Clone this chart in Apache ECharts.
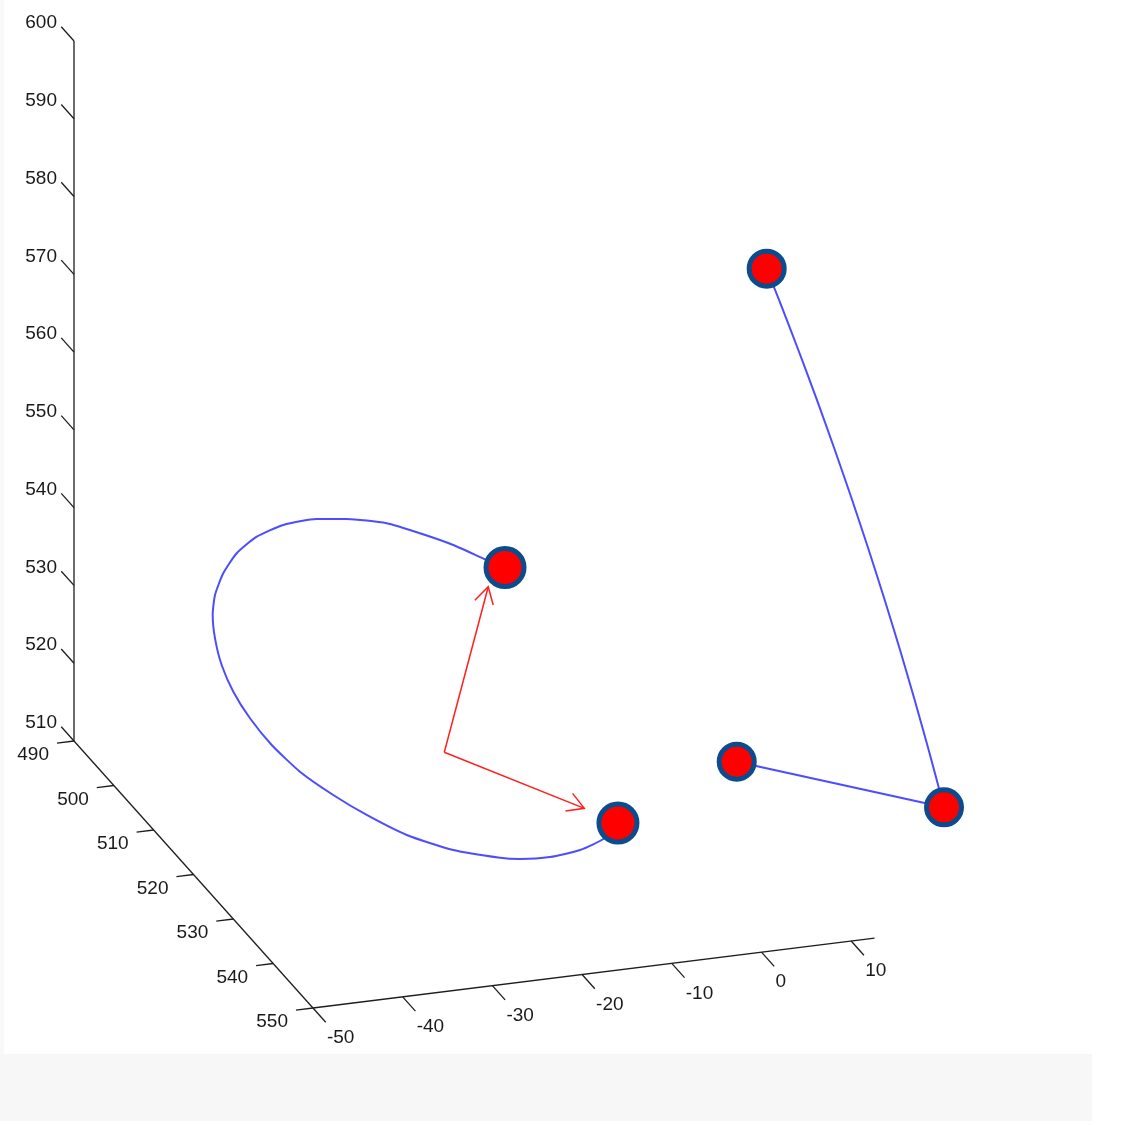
<!DOCTYPE html>
<html><head><meta charset="utf-8">
<script src="https://cdn.jsdelivr.net/npm/echarts@6/dist/echarts.min.js"></script>
<style>html,body{margin:0;padding:0;background:#fff}#c{width:1148px;height:1125px}</style>
</head><body><div id="c"></div>
<script>
// ---- axis ranges and tick labels (3D box) ----
const xRange = [-50, 12.6];
const yRange = [490, 550];
const zRange = [510, 600];
const xTicks = [-50, -40, -30, -20, -10, 0, 10];
const yTicks = [490, 500, 510, 520, 530, 540, 550];
const zTicks = [510, 520, 530, 540, 550, 560, 570, 580, 590, 600];

// ---- data: points as [x, y, z] ----
const arcCurve = [
  [-15.27,520,544.48],[-17.31,520,545.74],[-21.04,520,548.20],[-24.75,520,550.24],[-28.46,520,552.06],
  [-32.92,520,553.25],[-36.27,520,553.73],[-39.99,520,553.50],[-42.95,520,552.42],[-45.18,520,550.61],
  [-46.68,520,548.25],[-47.60,520,545.59],[-47.86,520,543.06],[-47.60,520,540.02],[-46.86,520,536.48],
  [-45.56,520,532.87],[-43.70,520,529.18],[-41.28,520,525.40],[-38.13,520,521.51],[-34.42,520,517.98],
  [-30.69,520,514.88],[-26.23,520,511.67],[-21.04,520,508.99],[-15.83,520,507.25],[-13.60,520,506.77],
  [-10.26,520,506.54],[-6.91,520,506.96],[-4.13,520,508.10],[-2.68,520,509.83]
];
const linkCurve = [
  [13.90,520,578.71],[15.28,520,574.49],[17.43,520,567.75],[19.50,520,561.03],[21.50,520,554.31],
  [23.43,520,547.60],[25.28,520,540.91],[27.06,520,534.23],[28.77,520,527.55],[30.40,520,520.89],
  [31.96,520,514.24],[33.67,520,506.62]
];
const linkTail = [[33.67,520,506.62],[10.56,520,515.81]];
const arcEnds = [[-15.27,520,544.48],[-2.68,520,509.83]];
const linkNodes = [[13.90,520,578.71],[10.56,520,515.81],[33.67,520,506.62]];
const arrowOrigin = [-22.04,520,521.70];
const arrowTips = [[-17.14,520,542.28],[-6.43,520,512.25]];

// ---- view projection (orthographic) ----
const VIEW = {o:[74,741], ex:[8.97,-1.117], ey:[3.983,4.45], ez:[0,-7.778]};
function proj(p){
  const a = p[0]-xRange[0], b = p[1]-yRange[0], c = p[2]-zRange[0];
  return [VIEW.o[0]+a*VIEW.ex[0]+b*VIEW.ey[0]+c*VIEW.ez[0],
          VIEW.o[1]+a*VIEW.ex[1]+b*VIEW.ey[1]+c*VIEW.ez[1]];
}

const FONT = '"Liberation Sans",Arial,sans-serif';
const AXC = '#1e1e1e';
const BLUE = '#4d4dff';

const tickItems = [];
zTicks.forEach(v=>tickItems.push({k:'z',v:v}));
yTicks.forEach(v=>tickItems.push({k:'y',v:v}));
xTicks.forEach(v=>tickItems.push({k:'x',v:v}));

function tickRender(params, api){
  const t = tickItems[params.dataIndex];
  let base, end, lx, ly, align;
  if (t.k==='z'){ base=[xRange[0],yRange[0],t.v]; end=[xRange[0],yRange[0]-3.2,t.v]; }
  else if (t.k==='y'){ base=[xRange[0],t.v,zRange[0]]; end=[xRange[0]-1.9,t.v,zRange[0]]; }
  else { base=[t.v,yRange[1],zRange[0]]; end=[t.v,yRange[1]+3.2,zRange[0]]; }
  const bp = api.coord(proj(base)), ep = api.coord(proj(end));
  if (t.k==='z'){ lx=bp[0]-17; ly=bp[1]-18; align='right'; }
  else if (t.k==='y'){ lx=bp[0]-25; ly=bp[1]+14; align='right'; }
  else { lx=bp[0]+14; ly=bp[1]+30; align='left'; }
  return {type:'group', children:[
    {type:'line', shape:{x1:bp[0],y1:bp[1],x2:ep[0],y2:ep[1]}, style:{stroke:AXC,lineWidth:1.3}},
    {type:'text', x:lx, y:ly, style:{text:String(t.v), fill:'#1a1a1a', font:'19px '+FONT, align:align, verticalAlign:'middle'}}
  ]};
}

function arrowRender(params, api){
  const o = api.coord(proj(arrowOrigin));
  const t = api.coord(proj(arrowTips[params.dataIndex]));
  const dx=o[0]-t[0], dy=o[1]-t[1], L=Math.hypot(dx,dy), ux=dx/L, uy=dy/L;
  const hl=19, ang=30*Math.PI/180, cs=Math.cos(ang), sn=Math.sin(ang);
  const h1=[t[0]+hl*(ux*cs-uy*sn), t[1]+hl*(ux*sn+uy*cs)];
  const h2=[t[0]+hl*(ux*cs+uy*sn), t[1]+hl*(-ux*sn+uy*cs)];
  return {type:'group', children:[
    {type:'line', shape:{x1:o[0],y1:o[1],x2:t[0],y2:t[1]}, style:{stroke:'#ff2020',lineWidth:1.5}},
    {type:'polyline', shape:{points:[h1,t,h2]}, style:{stroke:'#ff2020',lineWidth:1.5,fill:null}}
  ]};
}

const axisLine = (a,b)=>({type:'line', data:[proj(a),proj(b)], symbol:'none', silent:true,
  lineStyle:{color:AXC,width:1.3}, z:2});

const markerStyle = {color:'#ff0000', borderColor:'#0b4c8c', borderWidth:5, opacity:1};

const chart = echarts.init(document.getElementById('c'), null, {renderer:'canvas'});
chart.setOption({
  animation:false,
  backgroundColor:'#ffffff',
  grid:{left:0,right:0,top:0,bottom:0},
  xAxis:{type:'value',min:0,max:1148,show:false},
  yAxis:{type:'value',min:0,max:1125,inverse:true,show:false},
  graphic:[
    {type:'rect', shape:{x:0,y:1054,width:1092,height:67}, style:{fill:'#f7f7f7'}, z:-10},
    {type:'rect', shape:{x:0,y:0,width:4,height:1054}, style:{fill:'#f8f8f8'}, z:-10}
  ],
  series:[
    axisLine([xRange[0],yRange[0],zRange[0]],[xRange[0],yRange[0],zRange[1]]),
    axisLine([xRange[0],yRange[0],zRange[0]],[xRange[0],yRange[1],zRange[0]]),
    axisLine([xRange[0],yRange[1],zRange[0]],[xRange[1],yRange[1],zRange[0]]),
    {type:'custom', renderItem:tickRender, data:tickItems.map((t,i)=>[i,0]), silent:true, z:2},
    {type:'line', data:arcCurve.map(proj), symbol:'none', smooth:0.2, lineStyle:{color:BLUE,width:2}, z:3},
    {type:'line', data:linkCurve.map(proj), symbol:'none', smooth:0.2, lineStyle:{color:BLUE,width:2}, z:3},
    {type:'line', data:linkTail.map(proj), symbol:'none', lineStyle:{color:BLUE,width:2}, z:3},
    {type:'custom', renderItem:arrowRender, data:arrowTips.map((t,i)=>[i,0]), silent:true, z:3},
    {type:'scatter', data:arcEnds.map(proj), symbolSize:38, itemStyle:markerStyle, z:5},
    {type:'scatter', data:linkNodes.map(proj), symbolSize:35, itemStyle:markerStyle, z:5}
  ]
});
</script></body></html>
